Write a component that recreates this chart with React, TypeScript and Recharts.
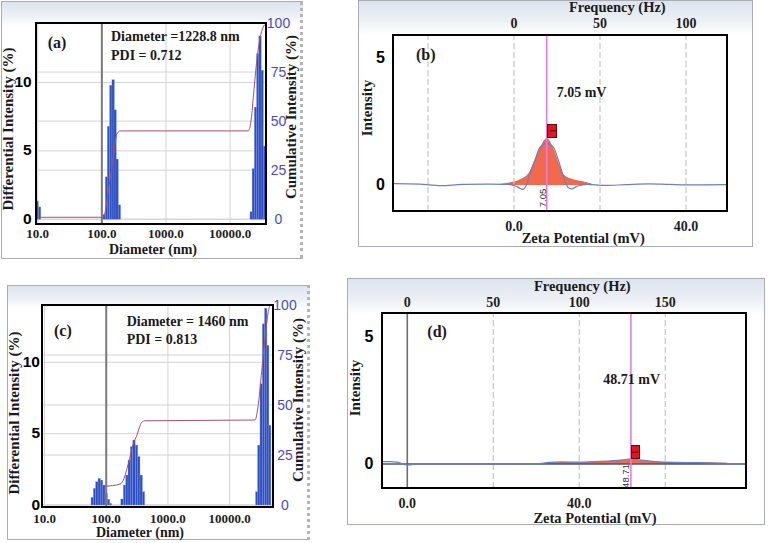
import React from "react";
import {
  ComposedChart,
  Bar,
  Line,
  Area,
  XAxis,
  YAxis,
  CartesianGrid,
  ReferenceLine,
} from "recharts";

// ---- (a) size distribution, first sample
const aBinNm = [9.8, 10.7, 108.7, 118, 126.8, 138, 150, 161, 173, 188, 21330, 23000, 24900, 27000, 29300, 31700, 34400];
const aBinPct = [1.34, 0.9, 0.36, 3.1, 6.8, 9.8, 10.2, 8.0, 4.4, 1.05, 0.55, 3.7, 8.2, 12.1, 13.4, 10.9, 5.35];
const aCumNm = [10.2, 106, 112.5, 126.8, 151.7, 171.4, 192.8, 19200, 21200, 23000, 25900, 29200, 32900, 36200];
const aCumPct = [1, 1, 3.8, 15, 32, 43.4, 45, 45, 50, 62, 80, 92, 98, 99.5];

// ---- (c) size distribution, second sample
const cBinNm = [59.3, 64.6, 70.4, 77.1, 84, 91.5, 100, 109, 117, 180, 198, 216, 236, 257, 282, 310, 337, 369, 402, 27500, 29700, 32500, 35400, 38500, 41500, 44700];
const cBinPct = [0.54, 1.17, 1.63, 1.87, 1.75, 1.4, 0.82, 0.4, 0.12, 0.42, 1.4, 2.1, 3.15, 4.09, 4.55, 4.2, 3.4, 2.1, 0.93, 0.93, 4.2, 8.5, 12.7, 13.8, 11.2, 5.6];
const cCumNm = [95.7, 167, 189, 228, 275, 312, 376, 425, 25800, 29200, 33100, 37500, 42400, 45200];
const cCumPct = [9.4, 10.4, 12.4, 20.7, 30.6, 34.7, 41.3, 42.1, 42.5, 50.4, 66.9, 83.4, 96.7, 100];

// ---- (b) zeta potential, first sample
const bFillMv = [-2.9, -1.0, 1.4, 3.7, 4.9, 6.1, 7.6, 9.1, 10.3, 11.5, 13.8, 16.1, 18.1];
const bFillI = [0.03, 0.08, 0.2, 0.52, 0.98, 1.44, 1.82, 1.4, 0.85, 0.39, 0.2, 0.12, 0.03];
const bTraceMv = [-28, -22, -17, -12, -6, -1.5, 0.5, 2.0, 3.0, 3.72, 4.88, 6.05, 7.6, 9.14, 10.3, 11.47, 12.6, 13.5, 14.8, 17, 21, 26, 31.5, 36, 42, 49.5];
const bTraceI = [0.05, 0.03, -0.03, 0.02, 0.03, 0.02, -0.05, -0.17, 0.05, 0.46, 0.98, 1.48, 1.63, 1.48, 0.98, 0.35, -0.1, -0.15, -0.04, 0.02, -0.02, 0.01, 0.04, 0.02, 0, 0.01];
const bPeakMv = 7.6;

// ---- (d) zeta potential, second sample
const dFillMv = [31.6, 33, 36, 40, 45, 50, 52, 54, 57, 62, 68, 74, 74.7];
const dFillI = [0, 0.04, 0.06, 0.05, 0.08, 0.13, 0.16, 0.13, 0.08, 0.06, 0.05, 0.03, 0];
const dTraceMv = [-5.9, -4, -2, -0.5, 0.5, 2, 10, 20, 30, 33, 36, 40, 45, 50, 52, 54, 57, 62, 68, 74, 76, 78.8];
const dTraceI = [0.09, 0.09, 0.06, -0.03, -0.04, 0, 0, 0, 0.01, 0.06, 0.08, 0.07, 0.1, 0.16, 0.2, 0.16, 0.1, 0.06, 0.05, 0.03, 0, 0];
const dPeakMv = 52.0;

// ticks
const sizeTicks = [10, 100, 1000, 10000];
const diffTicks = [0, 5, 10];
const cumTicks = [0, 25, 50, 75, 100];
const intTicks = [0, 5];
const bMvTicks = [0, 40];
const bHzTicks = [0, 50, 100];
const bGridMv = [-20, 0, 20, 40];
const dMvTicks = [0, 40];
const dHzTicks = [0, 50, 100, 150];
const dGridMv = [20, 40, 60];
const HZ_PER_MV = 2.5; // 50 Hz on the top scale sits over 20 mV

const SERIF = '"Liberation Serif", "Times New Roman", serif';
const SANS = '"Liberation Sans", Arial, sans-serif';

function sizeTable(binNm: number[], binPct: number[], cumNm: number[], cumPct: number[]) {
  const rows: any[] = [
    ...binNm.map((d, i) => ({ d, h: binPct[i] })),
    ...cumNm.map((d, i) => ({ d, cum: cumPct[i] })),
  ];
  return rows.sort((p, q) => p.d - q.d);
}

function zetaTable(fillMv: number[], fillI: number[], trMv: number[], trI: number[]) {
  const rows: any[] = [
    ...fillMv.map((v, i) => ({ v, fill: fillI[i] })),
    ...trMv.map((v, i) => ({ v, trace: trI[i] })),
  ];
  return rows.sort((p, q) => p.v - q.v);
}

type TickOpt = {
  dx?: number;
  dy?: number;
  anchor?: string;
  font: string;
  size: number;
  weight?: string;
  fill?: string;
  fmt?: (v: number) => string;
};

const makeTick = (o: TickOpt) => (p: any) => (
  <text
    x={p.x + (o.dx || 0)}
    y={p.y + (o.dy || 0)}
    textAnchor={o.anchor || "middle"}
    dominantBaseline="central"
    fontFamily={o.font}
    fontSize={o.size}
    fontWeight={o.weight || "normal"}
    fill={o.fill || "#1e1e1e"}
  >
    {o.fmt ? o.fmt(p.payload.value) : p.payload.value}
  </text>
);

const thinBar = (p: any) => {
  if (!p.payload || p.payload.h == null || !(p.height > 0)) return <g />;
  const cx = p.x + p.width / 2;
  return <rect x={cx - 1.2} y={p.y} width={2.4} height={p.height} fill="#2d4fc4" stroke="#8ea0e6" strokeWidth={0.35} />;
};

function Txt(props: {
  x: number;
  y: number;
  children: React.ReactNode;
  size?: number;
  weight?: string;
  font?: string;
  rotate?: boolean;
  center?: boolean;
  color?: string;
}) {
  const { x, y, children, size = 15, weight = "normal", font = SERIF, rotate = false, center = true, color = "#1a1a1a" } = props;
  const tf = (center ? "translate(-50%,-50%)" : "translate(0,-50%)") + (rotate ? " rotate(-90deg)" : "");
  return (
    <div
      style={{
        position: "absolute",
        left: x,
        top: y,
        transform: tf,
        whiteSpace: "nowrap",
        fontFamily: font,
        fontSize: size,
        fontWeight: weight as any,
        color,
        lineHeight: 1,
      }}
    >
      {children}
    </div>
  );
}

function Frame(p: { l: number; t: number; w: number; h: number; band: number; dotted?: boolean }) {
  return (
    <div
      style={{
        position: "absolute",
        left: p.l,
        top: p.t,
        width: p.w,
        height: p.h,
        boxSizing: "border-box",
        border: "1px solid #a9adb3",
        borderRight: p.dotted ? "3px dotted #b5b5b5" : "1px solid #a9adb3",
        background: `linear-gradient(to bottom, #dde4ee 0px, #edf1f6 ${p.band * 0.6}px, #ffffff ${p.band}px)`,
      }}
    />
  );
}

function PlotBox(p: { l: number; t: number; r: number; b: number }) {
  return (
    <div
      style={{
        position: "absolute",
        left: p.l - 1,
        top: p.t - 1,
        width: p.r - p.l + 2,
        height: p.b - p.t + 2,
        boxSizing: "border-box",
        border: "2px solid #000",
      }}
    />
  );
}

function SizeChart(p: {
  left: number;
  top: number;
  width: number;
  height: number;
  mTop: number;
  yl: number;
  yr: number;
  xh: number;
  xDomain: number[];
  lDomain: number[];
  rDomain: number[];
  data: any[];
  xdy: number;
  ldx: number;
  rdx: number;
}) {
  return (
    <div style={{ position: "absolute", left: p.left, top: p.top }}>
      <ComposedChart width={p.width} height={p.height} data={p.data} margin={{ top: p.mTop, right: 0, bottom: 0, left: 0 }}>
        <CartesianGrid yAxisId="L" stroke="#d3d3d3" />
        <CartesianGrid yAxisId="R" vertical={false} stroke="#d3d3d3" />
        <XAxis
          dataKey="d"
          type="number"
          scale="log"
          domain={p.xDomain}
          allowDataOverflow
          ticks={sizeTicks}
          interval={0}
          height={p.xh}
          tickSize={0}
          tickMargin={0}
          axisLine={false}
          tick={makeTick({ dy: p.xdy, font: SERIF, size: 13, weight: "bold", fmt: (v) => v.toFixed(1) })}
        />
        <YAxis
          yAxisId="L"
          width={p.yl}
          domain={p.lDomain}
          allowDataOverflow
          ticks={diffTicks}
          interval={0}
          tickSize={0}
          tickMargin={0}
          axisLine={false}
          tick={makeTick({ dx: p.ldx, dy: -1, anchor: "end", font: SANS, size: 15.5, weight: "bold", fill: "#000" })}
        />
        <YAxis
          yAxisId="R"
          orientation="right"
          width={p.yr}
          domain={p.rDomain}
          allowDataOverflow
          ticks={cumTicks}
          interval={0}
          tickSize={0}
          tickMargin={0}
          axisLine={false}
          tick={makeTick({ dx: p.rdx, font: SANS, size: 14, fill: "#4a4ac8" })}
        />
        <ReferenceLine yAxisId="L" x={100} stroke="#7a7a7a" strokeWidth={2} />
        <Bar yAxisId="L" dataKey="h" barSize={2} shape={thinBar} isAnimationActive={false} />
        <Line
          yAxisId="R"
          dataKey="cum"
          type="monotone"
          stroke="#a8506a"
          strokeWidth={1}
          dot={false}
          connectNulls
          isAnimationActive={false}
        />
      </ComposedChart>
    </div>
  );
}

function ZetaChart(p: {
  left: number;
  top: number;
  width: number;
  height: number;
  mr: number;
  yl: number;
  topH: number;
  xh: number;
  mvDomain: number[];
  iDomain: number[];
  mvTicks: number[];
  hzTicks: number[];
  dashed: number[];
  solidZero: boolean;
  peak: number;
  data: any[];
  bdy: number;
  tdy: number;
  ldx: number;
}) {
  return (
    <div style={{ position: "absolute", left: p.left, top: p.top }}>
      <ComposedChart width={p.width} height={p.height} data={p.data} margin={{ top: 0, right: p.mr, bottom: 0, left: 0 }}>
        <XAxis
          xAxisId="mv"
          dataKey="v"
          type="number"
          domain={p.mvDomain}
          allowDataOverflow
          ticks={p.mvTicks}
          interval={0}
          height={p.xh}
          tickSize={0}
          tickMargin={0}
          axisLine={false}
          tick={makeTick({ dy: p.bdy, font: SERIF, size: 14, weight: "bold", fmt: (v) => v.toFixed(1) })}
        />
        <XAxis
          xAxisId="hz"
          dataKey="v"
          orientation="top"
          type="number"
          domain={p.mvDomain}
          allowDataOverflow
          ticks={p.hzTicks.map((h) => h / HZ_PER_MV)}
          interval={0}
          height={p.topH}
          tickSize={0}
          tickMargin={0}
          axisLine={false}
          tick={makeTick({ dy: p.tdy, font: SERIF, size: 14, weight: "bold", fmt: (v) => String(Math.round(v * HZ_PER_MV)) })}
        />
        <YAxis
          yAxisId="i"
          width={p.yl}
          domain={p.iDomain}
          allowDataOverflow
          ticks={intTicks}
          interval={0}
          tickSize={0}
          tickMargin={0}
          axisLine={false}
          tick={makeTick({ dx: p.ldx, anchor: "end", font: SANS, size: 16, weight: "bold", fill: "#000" })}
        />
        {p.dashed.map((v) => (
          <ReferenceLine key={v} xAxisId="mv" yAxisId="i" x={v} stroke="#c6c6c6" strokeWidth={1.2} strokeDasharray="6 3" />
        ))}
        {p.solidZero && <ReferenceLine xAxisId="mv" yAxisId="i" x={0} stroke="#6f6f6f" strokeWidth={1.6} />}
        {p.solidZero && <ReferenceLine xAxisId="mv" yAxisId="i" y={0} stroke="#4b5573" strokeWidth={1.3} />}
        <Area
          xAxisId="mv"
          yAxisId="i"
          dataKey="fill"
          type="monotone"
          fill="#f26a4b"
          fillOpacity={1}
          stroke="#d2553a"
          strokeWidth={0.8}
          connectNulls
          isAnimationActive={false}
        />
        <Line
          xAxisId="mv"
          yAxisId="i"
          dataKey="trace"
          type="monotone"
          stroke="#6d7fbf"
          strokeWidth={1.2}
          dot={false}
          connectNulls
          isAnimationActive={false}
        />
        {/* keeps the frequency axis tied to a series; draws nothing */}
        <Line
          xAxisId="hz"
          yAxisId="i"
          dataKey="trace"
          stroke="none"
          dot={false}
          connectNulls
          isAnimationActive={false}
        />
        <ReferenceLine xAxisId="mv" yAxisId="i" x={p.peak} stroke="#e07ee0" strokeWidth={1.6} />
      </ComposedChart>
    </div>
  );
}

function Marker(p: { l: number; t: number; w: number; h: number }) {
  return (
    <div
      style={{
        position: "absolute",
        left: p.l,
        top: p.t,
        width: p.w,
        height: p.h,
        boxSizing: "border-box",
        background: "#e5161b",
        border: "1px solid #5a1010",
        color: "#5a0000",
        fontFamily: SERIF,
        fontSize: 9,
        lineHeight: `${p.h - 2}px`,
        textAlign: "center",
      }}
    >
      <span style={{ display: "inline-block", transform: "rotate(90deg)" }}>1</span>
    </div>
  );
}

export default function App() {
  const aData = sizeTable(aBinNm, aBinPct, aCumNm, aCumPct);
  const cData = sizeTable(cBinNm, cBinPct, cCumNm, cCumPct);
  const bData = zetaTable(bFillMv, bFillI, bTraceMv, bTraceI);
  const dData = zetaTable(dFillMv, dFillI, dTraceMv, dTraceI);

  return (
    <div style={{ position: "relative", width: 771, height: 543, background: "#fff", overflow: "hidden" }}>
      <style>{`body{margin:0}`}</style>

      {/* (a) */}
      <Frame l={1} t={1} w={302} h={258} band={24} dotted />
      <SizeChart
        left={0}
        top={0}
        width={305}
        height={262}
        mTop={23}
        yl={36}
        yr={39}
        xh={38}
        xDomain={[9.4, 36300]}
        lDomain={[-0.35, 14.35]}
        rDomain={[-2.44, 100]}
        data={aData}
        xdy={9}
        ldx={-4.3}
        rdx={12.5}
      />
      <PlotBox l={36} t={23} r={266} b={224} />
      <Txt x={8} y={129} rotate weight="bold">Differential Intensity (%)</Txt>
      <Txt x={291} y={116.7} rotate weight="bold">Cumulative Intensity (%)</Txt>
      <Txt x={153} y={249.5} weight="bold" size={14}>Diameter (nm)</Txt>
      <Txt x={47.7} y={43.3} center={false} weight="bold" size={16}>(a)</Txt>
      <Txt x={111} y={36.7} center={false} weight="bold" size={14}>Diameter =1228.8 nm</Txt>
      <Txt x={111} y={55.7} center={false} weight="bold" size={14}>PDI = 0.712</Txt>

      {/* (c) */}
      <Frame l={7} t={285} w={303} h={255} band={22} dotted />
      <SizeChart
        left={0}
        top={285}
        width={310}
        height={258}
        mTop={20}
        yl={42}
        yr={37}
        xh={36}
        xDomain={[9.1, 50500]}
        lDomain={[-0.14, 14.02]}
        rDomain={[-1, 100]}
        data={cData}
        xdy={11}
        ldx={-2}
        rdx={12}
      />
      <PlotBox l={42} t={305} r={273} b={507} />
      <Txt x={14} y={413} rotate weight="bold">Differential Intensity (%)</Txt>
      <Txt x={298.3} y={400} rotate weight="bold">Cumulative Intensity (%)</Txt>
      <Txt x={140} y={532.5} weight="bold" size={14}>Diameter (nm)</Txt>
      <Txt x={54} y={330.7} center={false} weight="bold" size={16}>(c)</Txt>
      <Txt x={126.7} y={321.7} center={false} weight="bold" size={14}>Diameter = 1460 nm</Txt>
      <Txt x={126.7} y={340} center={false} weight="bold" size={14}>PDI = 0.813</Txt>

      {/* (b) */}
      <Frame l={358} t={0} w={395} h={247} band={34} />
      <ZetaChart
        left={340}
        top={0}
        width={420}
        height={250}
        mr={33}
        yl={53}
        topH={35}
        xh={39}
        mvDomain={[-28.14, 49.53]}
        iDomain={[-1.02, 5.87]}
        mvTicks={bMvTicks}
        hzTicks={bHzTicks}
        dashed={bGridMv}
        solidZero={false}
        peak={bPeakMv}
        data={bData}
        bdy={15}
        tdy={-11.7}
        ldx={-8}
      />
      <PlotBox l={393} t={35} r={727} b={211} />
      <Txt x={366.7} y={108.3} rotate weight="bold">Intensity</Txt>
      <Txt x={617.3} y={7.3} weight="bold" size={14.5}>Frequency (Hz)</Txt>
      <Txt x={583.3} y={238.3} weight="bold" size={14.5}>Zeta Potential (mV)</Txt>
      <Txt x={416} y={55} center={false} weight="bold" size={16}>(b)</Txt>
      <Txt x={556.7} y={93.3} center={false} weight="bold" size={14}>7.05 mV</Txt>
      <Marker l={547.3} t={124.3} w={9.4} h={13.4} />
      <Txt x={542.5} y={198.3} rotate font={SANS} size={9.5} color="#333">7.05</Txt>

      {/* (d) */}
      <Frame l={347} t={278} w={418} h={247} band={36} />
      <ZetaChart
        left={330}
        top={278}
        width={441}
        height={262}
        mr={25}
        yl={52}
        topH={35}
        xh={52}
        mvDomain={[-5.88, 78.77]}
        iDomain={[-0.943, 5.93]}
        mvTicks={dMvTicks}
        hzTicks={dHzTicks}
        dashed={dGridMv}
        solidZero
        peak={dPeakMv}
        data={dData}
        bdy={15}
        tdy={-10.7}
        ldx={-8.7}
      />
      <PlotBox l={382} t={313} r={746} b={488} />
      <Txt x={355} y={388.3} rotate weight="bold">Intensity</Txt>
      <Txt x={582.3} y={286} weight="bold" size={14.5}>Frequency (Hz)</Txt>
      <Txt x={595} y={517.5} weight="bold" size={14.5}>Zeta Potential (mV)</Txt>
      <Txt x={427.3} y={331.7} center={false} weight="bold" size={16}>(d)</Txt>
      <Txt x={603.3} y={380} center={false} weight="bold" size={14}>48.71 mV</Txt>
      <Marker l={630.7} t={445} w={9.3} h={14} />
      <Txt x={626.3} y={475.8} rotate font={SANS} size={9.5} color="#333">48.71</Txt>
    </div>
  );
}
